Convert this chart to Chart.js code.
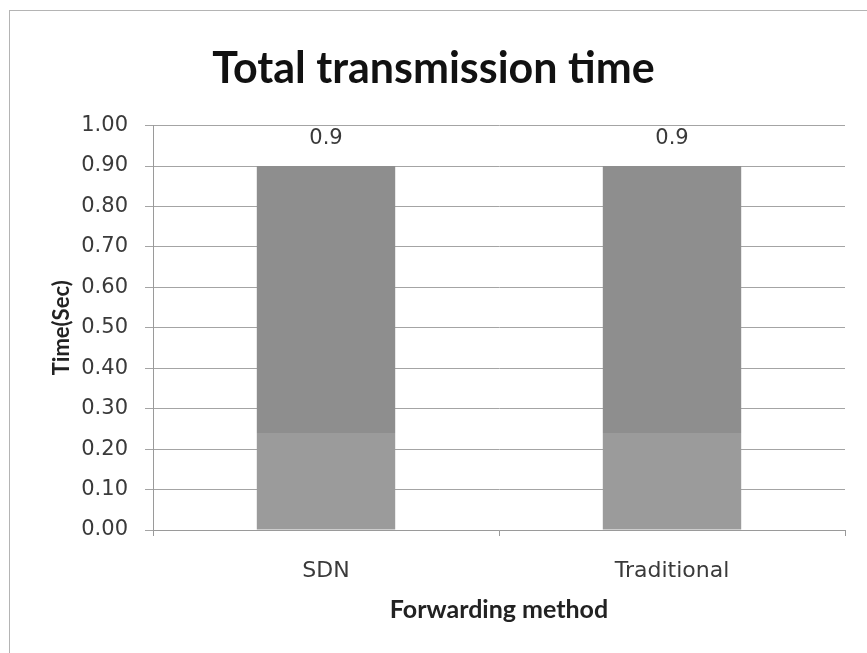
<!DOCTYPE html>
<html>
<head>
<meta charset="utf-8">
<script src="https://cdn.jsdelivr.net/npm/chart.js@4"></script>
<style>
    html, body { margin: 0; padding: 0; background: #fff; }
    #wrap { position: relative; width: 867px; height: 653px; overflow: hidden; }
    #frame { position: absolute; left: 9px; top: 10px; width: 870px; height: 660px; border: 1px solid #b4b4b4; }
    canvas { position: absolute; left: 0; top: 0; }
</style>
</head>
<body>
<div id="wrap">
    <div id="frame"></div>
    <canvas id="chart" width="867" height="653"></canvas>
</div>

<script>
    const methods = ["SDN", "Traditional"];
    const totalTime = [0.9, 0.9];
    const yTicks = [0, 0.1, 0.2, 0.3, 0.4, 0.5, 0.6, 0.7, 0.8, 0.9, 1.0];

    // the scanned bars are a bit lighter near the base
    function barFill(context) {
        const chart = context.chart;
        const y = chart.scales.y;
        if (!chart.chartArea || !y) {
            return "#929292";
        }
        const top = y.getPixelForValue(1);
        const bottom = y.getPixelForValue(0);
        const step = (bottom - y.getPixelForValue(0.24)) / (bottom - top);
        const g = chart.ctx.createLinearGradient(0, bottom, 0, top);
        g.addColorStop(0, "#9b9b9b");
        g.addColorStop(step, "#9b9b9b");
        g.addColorStop(step, "#8e8e8e");
        g.addColorStop(1, "#8e8e8e");
        return g;
    }

    // value labels above the bars
    const valueLabels = {
        id: "valueLabels",
        afterDatasetsDraw(chart) {
            const ctx = chart.ctx;
            const meta = chart.getDatasetMeta(0);
            ctx.save();
            ctx.font = "21px 'DejaVu Sans'";
            ctx.fillStyle = "#3a3a3a";
            ctx.textAlign = "center";
            ctx.textBaseline = "middle";
            meta.data.forEach(function (bar, i) {
                ctx.fillText(String(totalTime[i]), bar.x, bar.y - 27);
            });
            ctx.restore();
        }
    };

    new Chart(document.getElementById("chart"), {
        type: "bar",
        data: {
            labels: methods,
            datasets: [{
                data: totalTime,
                backgroundColor: barFill,
                borderWidth: 0,
                barPercentage: 0.4,
                categoryPercentage: 1.0
            }]
        },
        options: {
            responsive: false,
            animation: false,
            events: [],
            layout: {
                padding: { left: 22, right: 22, top: 0, bottom: 28 }
            },
            plugins: {
                legend: { display: false },
                tooltip: { enabled: false },
                title: {
                    display: true,
                    text: "Total transmission time",
                    color: "#111",
                    font: { family: "Lato", size: 43, weight: "bold", lineHeight: 1.2 },
                    padding: { top: 43, bottom: 31 }
                }
            },
            scales: {
                x: {
                    afterFit: function (scale) {
                        scale.height = 95;
                    },
                    grid: {
                        drawOnChartArea: false,
                        drawTicks: true,
                        tickLength: 6,
                        color: "#9a9a9a"
                    },
                    border: { color: "#9a9a9a" },
                    ticks: {
                        color: "#3a3a3a",
                        padding: 22,
                        font: { family: "DejaVu Sans", size: 22 }
                    },
                    title: {
                        display: true,
                        text: "Forwarding method",
                        color: "#222",
                        font: { family: "Lato", size: 25, weight: "bold", lineHeight: 1.2 },
                        padding: { top: 10, bottom: 0 }
                    }
                },
                y: {
                    min: 0,
                    max: 1,
                    afterBuildTicks: function (scale) {
                        scale.ticks = yTicks.map(function (v) { return { value: v }; });
                    },
                    afterFit: function (scale) {
                        scale.width = 131;
                    },
                    grid: {
                        color: "#a4a4a4",
                        tickLength: 8
                    },
                    border: { color: "#9a9a9a" },
                    ticks: {
                        color: "#3a3a3a",
                        padding: 17,
                        font: { family: "DejaVu Sans", size: 21 },
                        callback: function (value) {
                            return Number(value).toFixed(2);
                        }
                    },
                    title: {
                        display: true,
                        text: "Time(Sec)",
                        color: "#222",
                        font: { family: "Lato", size: 22, weight: "bold", lineHeight: 1.2 },
                        padding: { top: 27, bottom: 4 }
                    }
                }
            }
        },
        plugins: [valueLabels]
    });
</script>
</body>
</html>
